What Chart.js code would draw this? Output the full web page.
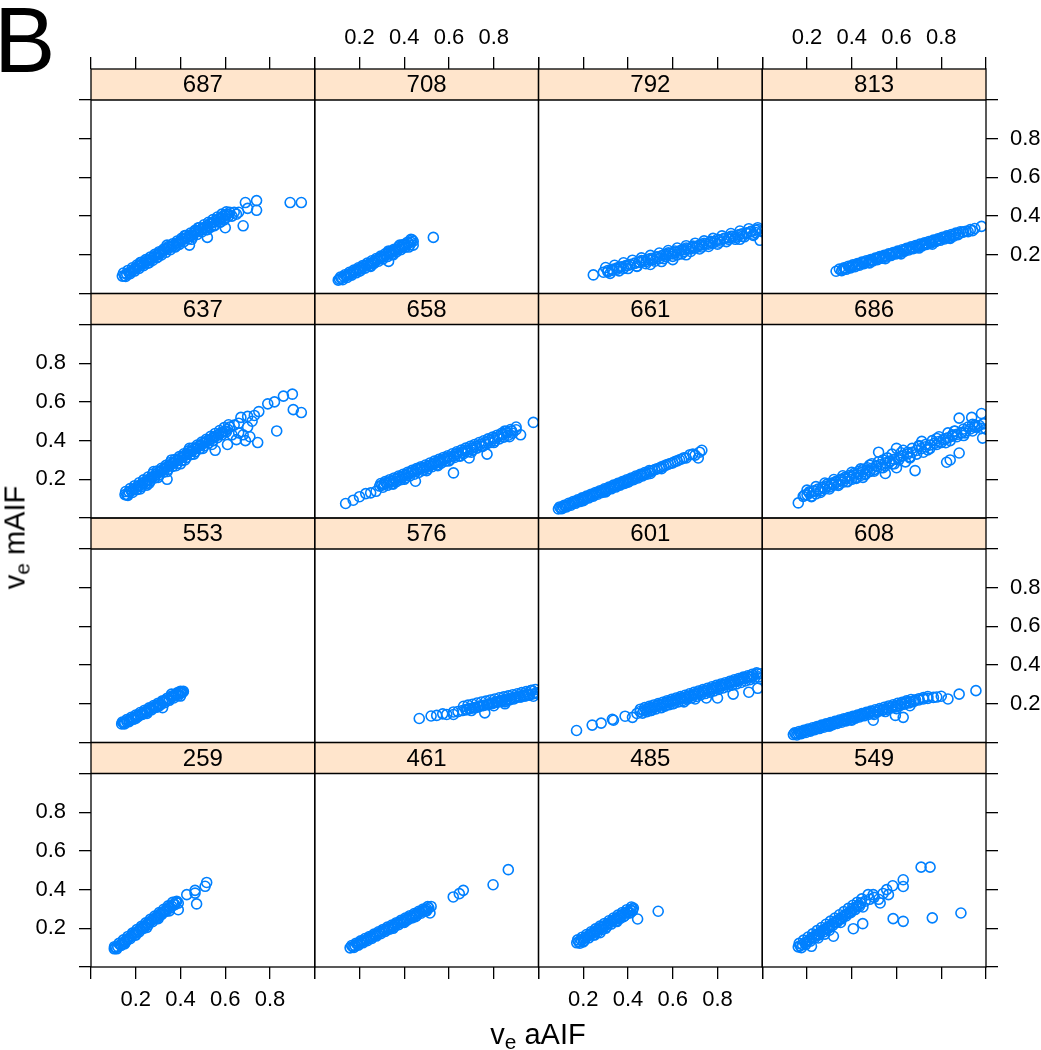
<!DOCTYPE html>
<html><head><meta charset="utf-8">
<script src="https://cdn.jsdelivr.net/npm/chart.js@4.4.1/dist/chart.umd.min.js"></script>
<style>
html,body{margin:0;padding:0;background:#fff;}
#wrap{position:relative;width:1041px;height:1050px;overflow:hidden;font-family:"Liberation Sans",Arial,sans-serif;}
canvas{position:absolute;left:0;top:0;}
.lbl{position:absolute;color:#000;white-space:nowrap;line-height:1;}
.lbl sub{font-size:0.72em;vertical-align:-0.25em;line-height:0;}
</style></head><body>
<div id="wrap">
<canvas id="c" width="1041" height="1050"></canvas>
<div class="lbl" style="left:-6px;top:-6px;font-size:92px;">B</div>
<div class="lbl" style="left:338px;width:400px;text-align:center;top:1020px;font-size:29px;">v<sub>e</sub> aAIF</div>
<div class="lbl" style="left:-135px;width:300px;height:29px;text-align:center;top:523px;font-size:29px;transform:rotate(-90deg);">v<sub>e</sub> mAIF</div>
</div>
<script>
// ---------- data ----------
const panelRows = [
  ['687','708','792','813'],
  ['637','658','661','686'],
  ['553','576','601','608'],
  ['259','461','485','549']
];
const tickValues = [0, 0.2, 0.4, 0.6, 0.8, 1.0];
const tickLabels = ['', '0.2', '0.4', '0.6', '0.8', ''];

const s687 = [[0.14,0.09],[0.15,0.092],[0.16,0.10],[0.17,0.108],[0.18,0.112],[0.19,0.125],[0.20,0.128],[0.21,0.14],[0.22,0.142],[0.23,0.155],[0.24,0.156],[0.25,0.17],[0.26,0.172],[0.27,0.18],[0.28,0.19],[0.29,0.195],[0.30,0.205],[0.31,0.21],[0.32,0.22],[0.33,0.225],[0.34,0.232],[0.35,0.24],[0.36,0.24],[0.37,0.25],[0.38,0.26],[0.39,0.262],[0.40,0.27],[0.41,0.28],[0.42,0.283],[0.43,0.29],[0.44,0.30],[0.45,0.30],[0.46,0.312],[0.47,0.32],[0.48,0.322],[0.49,0.33],[0.50,0.34],[0.51,0.342],[0.52,0.35],[0.53,0.36],[0.54,0.365],[0.55,0.37],[0.56,0.38],[0.57,0.385],[0.58,0.39],[0.59,0.40],[0.60,0.405],[0.61,0.41],[0.62,0.42],[0.22,0.16],[0.26,0.16],[0.30,0.19],[0.34,0.25],[0.38,0.245],[0.42,0.30],[0.45,0.28],[0.48,0.34],[0.52,0.33],[0.55,0.35],[0.58,0.37],[0.60,0.39],[0.44,0.25],[0.52,0.29],[0.63,0.40],[0.64,0.42],[0.66,0.42],[0.68,0.35],[0.69,0.47],[0.70,0.44],[0.74,0.48],[0.74,0.43],[0.89,0.47],[0.94,0.47],[0.60,0.34],[0.65,0.41],
  [0.145,0.106],[0.155,0.088],[0.165,0.119],[0.175,0.102],[0.185,0.133],[0.195,0.116],[0.205,0.147],[0.215,0.130],[0.225,0.161],[0.235,0.144],[0.245,0.175],[0.255,0.157],[0.265,0.188],[0.275,0.171],[0.285,0.202],[0.295,0.185],[0.305,0.216],[0.315,0.199],[0.325,0.230],[0.335,0.213],[0.345,0.243],[0.355,0.226],[0.365,0.257],[0.375,0.240],[0.385,0.271],[0.395,0.254],[0.405,0.285],[0.415,0.268],[0.425,0.299],[0.435,0.282],[0.445,0.312],[0.455,0.295],[0.465,0.326],[0.475,0.305],[0.485,0.340],[0.495,0.318],[0.505,0.355],[0.515,0.330],[0.525,0.368],[0.535,0.343],[0.545,0.382],[0.555,0.355],[0.565,0.395],[0.575,0.368],[0.585,0.41],[0.595,0.38],[0.605,0.422],[0.615,0.40]];
const s708 = [[0.105,0.069],[0.11,0.075],[0.12,0.078],[0.13,0.088],[0.14,0.09],[0.15,0.098],[0.16,0.10],[0.17,0.112],[0.18,0.115],[0.19,0.122],[0.20,0.128],[0.21,0.13],[0.22,0.14],[0.23,0.145],[0.24,0.15],[0.25,0.158],[0.26,0.16],[0.27,0.17],[0.28,0.175],[0.29,0.18],[0.30,0.19],[0.31,0.19],[0.32,0.20],[0.33,0.21],[0.34,0.21],[0.35,0.22],[0.36,0.225],[0.37,0.23],[0.38,0.235],[0.39,0.24],[0.40,0.25],[0.41,0.25],[0.42,0.26],[0.43,0.265],[0.44,0.27],[0.43,0.28],[0.44,0.25],[0.42,0.24],[0.33,0.166],[0.25,0.14],[0.35,0.20],[0.20,0.115],[0.38,0.25],[0.33,0.22],[0.53,0.29],
  [0.115,0.085],[0.125,0.071],[0.135,0.097],[0.145,0.083],[0.155,0.109],[0.165,0.095],[0.175,0.121],[0.185,0.107],[0.195,0.133],[0.205,0.119],[0.215,0.145],[0.225,0.131],[0.235,0.157],[0.245,0.143],[0.255,0.169],[0.265,0.155],[0.275,0.181],[0.285,0.167],[0.295,0.193],[0.305,0.179],[0.315,0.205],[0.325,0.191],[0.335,0.217],[0.345,0.203],[0.355,0.229],[0.365,0.215],[0.375,0.241],[0.385,0.227],[0.395,0.253],[0.405,0.239],[0.415,0.265],[0.425,0.251],[0.435,0.277]];
const s792 = [[0.245,0.096],[0.29,0.11],[0.31,0.112],[0.33,0.12],[0.35,0.125],[0.36,0.135],[0.38,0.13],[0.40,0.145],[0.41,0.15],[0.43,0.155],[0.45,0.16],[0.46,0.17],[0.48,0.165],[0.50,0.18],[0.51,0.175],[0.53,0.19],[0.54,0.18],[0.56,0.20],[0.57,0.19],[0.58,0.21],[0.60,0.205],[0.61,0.22],[0.62,0.20],[0.64,0.225],[0.65,0.215],[0.66,0.235],[0.68,0.23],[0.69,0.245],[0.70,0.235],[0.72,0.25],[0.73,0.24],[0.74,0.26],[0.76,0.255],[0.77,0.27],[0.78,0.26],[0.80,0.28],[0.81,0.265],[0.83,0.285],[0.85,0.28],[0.86,0.295],[0.88,0.29],[0.90,0.305],[0.91,0.295],[0.93,0.31],[0.95,0.32],[0.96,0.30],[0.98,0.33],[0.99,0.275],[0.97,0.315],[0.50,0.15],[0.55,0.165],[0.60,0.175],[0.44,0.14],[0.66,0.20],[0.90,0.28],[1.00,0.32],
  [0.30,0.134],[0.32,0.104],[0.34,0.146],[0.36,0.117],[0.38,0.159],[0.40,0.129],[0.42,0.172],[0.44,0.142],[0.46,0.184],[0.48,0.154],[0.50,0.197],[0.52,0.167],[0.54,0.209],[0.56,0.18],[0.58,0.222],[0.60,0.192],[0.62,0.235],[0.64,0.205],[0.66,0.247],[0.68,0.217],[0.70,0.26],[0.72,0.23],[0.74,0.272],[0.76,0.243],[0.78,0.285],[0.80,0.255],[0.82,0.298],[0.84,0.268],[0.86,0.31],[0.88,0.28],[0.90,0.323],[0.92,0.293],[0.94,0.335],[0.96,0.306],[0.98,0.34],
  [0.31,0.119],[0.33,0.125],[0.35,0.132],[0.37,0.138],[0.39,0.144],[0.41,0.150],[0.43,0.157],[0.45,0.163],[0.47,0.169],[0.49,0.176],[0.51,0.182],[0.53,0.188],[0.55,0.195],[0.57,0.201],[0.59,0.207],[0.61,0.213],[0.63,0.220],[0.65,0.226],[0.67,0.232],[0.69,0.239],[0.71,0.245],[0.73,0.251],[0.75,0.258],[0.77,0.264],[0.79,0.270],[0.81,0.276],[0.83,0.283],[0.85,0.289],[0.87,0.295],[0.89,0.302],[0.91,0.308],[0.93,0.314],[0.95,0.321],[0.97,0.327]];
const s813 = [[0.33,0.115],[0.36,0.125],[0.37,0.13],[0.39,0.135],[0.40,0.14],[0.42,0.148],[0.43,0.15],[0.45,0.16],[0.46,0.162],[0.48,0.17],[0.49,0.172],[0.51,0.18],[0.52,0.185],[0.54,0.19],[0.55,0.195],[0.57,0.20],[0.58,0.205],[0.60,0.21],[0.61,0.215],[0.63,0.22],[0.64,0.228],[0.66,0.232],[0.67,0.235],[0.69,0.245],[0.70,0.245],[0.72,0.255],[0.73,0.258],[0.75,0.265],[0.76,0.268],[0.78,0.275],[0.79,0.28],[0.81,0.287],[0.82,0.29],[0.84,0.297],[0.86,0.305],[0.88,0.31],[0.90,0.318],[0.92,0.32],[0.93,0.33],[0.94,0.325],[0.98,0.347],[0.55,0.18],[0.62,0.205],[0.70,0.235],[0.48,0.158],[0.76,0.255],[0.84,0.285],
  [0.345,0.126],[0.355,0.118],[0.365,0.133],[0.375,0.125],[0.385,0.141],[0.395,0.132],[0.405,0.148],[0.415,0.139],[0.425,0.155],[0.435,0.146],[0.445,0.162],[0.455,0.154],[0.465,0.169],[0.475,0.161],[0.485,0.176],[0.495,0.168],[0.505,0.183],[0.515,0.175],[0.525,0.191],[0.535,0.182],[0.545,0.198],[0.555,0.189],[0.565,0.205],[0.575,0.196],[0.585,0.212],[0.595,0.204],[0.605,0.219],[0.615,0.211],[0.625,0.226],[0.635,0.218],[0.645,0.233],[0.655,0.225],[0.665,0.241],[0.675,0.232],[0.685,0.248],[0.695,0.239],[0.705,0.255],[0.715,0.246],[0.725,0.262],[0.735,0.254],[0.745,0.269],[0.755,0.261],[0.765,0.276],[0.775,0.268],[0.785,0.283],[0.795,0.275],[0.805,0.291],[0.815,0.282],[0.825,0.298],[0.835,0.289],[0.845,0.305],[0.855,0.296],[0.865,0.312],[0.875,0.304],[0.885,0.319],[0.895,0.317],[0.91,0.322],[0.95,0.336]];
const s637 = [[0.152,0.121],[0.16,0.12],[0.17,0.135],[0.18,0.14],[0.19,0.15],[0.20,0.155],[0.21,0.165],[0.22,0.17],[0.23,0.18],[0.24,0.185],[0.25,0.195],[0.26,0.20],[0.27,0.21],[0.28,0.215],[0.29,0.225],[0.30,0.235],[0.31,0.24],[0.32,0.25],[0.33,0.255],[0.34,0.265],[0.35,0.27],[0.36,0.28],[0.37,0.285],[0.38,0.295],[0.39,0.30],[0.40,0.31],[0.41,0.315],[0.42,0.325],[0.43,0.33],[0.44,0.34],[0.45,0.345],[0.46,0.355],[0.47,0.36],[0.48,0.37],[0.49,0.375],[0.50,0.385],[0.51,0.39],[0.52,0.40],[0.53,0.405],[0.54,0.41],[0.55,0.42],[0.56,0.425],[0.57,0.43],[0.58,0.44],[0.59,0.445],[0.60,0.45],[0.61,0.46],[0.62,0.47],[0.22,0.15],[0.26,0.18],[0.30,0.21],[0.34,0.24],[0.38,0.27],[0.42,0.30],[0.46,0.33],[0.50,0.36],[0.54,0.38],[0.28,0.24],[0.36,0.30],[0.44,0.36],[0.34,0.20],[0.25,0.17],[0.40,0.28],[0.555,0.35],[0.61,0.38],[0.65,0.405],[0.69,0.40],[0.70,0.47],[0.67,0.52],[0.70,0.525],[0.75,0.55],[0.745,0.39],[0.79,0.59],[0.82,0.60],[0.86,0.63],[0.90,0.64],[0.904,0.56],[0.94,0.545],[0.83,0.45],[0.64,0.48],[0.66,0.49],[0.68,0.43],[0.72,0.50],[0.73,0.53],[0.63,0.43],[0.66,0.44],[0.71,0.42],
  [0.155,0.137],[0.165,0.117],[0.175,0.152],[0.185,0.132],[0.195,0.167],[0.205,0.147],[0.215,0.182],[0.225,0.162],[0.235,0.197],[0.245,0.177],[0.255,0.212],[0.265,0.192],[0.275,0.227],[0.285,0.207],[0.295,0.242],[0.305,0.222],[0.315,0.257],[0.325,0.237],[0.335,0.272],[0.345,0.252],[0.355,0.287],[0.365,0.267],[0.375,0.302],[0.385,0.282],[0.395,0.317],[0.405,0.297],[0.415,0.332],[0.425,0.312],[0.435,0.347],[0.445,0.327],[0.455,0.362],[0.465,0.342],[0.475,0.377],[0.485,0.357],[0.495,0.392],[0.505,0.372],[0.515,0.407],[0.525,0.387],[0.535,0.422],[0.545,0.40],[0.555,0.437],[0.565,0.415],[0.575,0.452],[0.585,0.43],[0.595,0.467],[0.605,0.445],[0.615,0.482]];
const s658 = [[0.138,0.075],[0.172,0.092],[0.20,0.11],[0.228,0.126],[0.25,0.13],[0.274,0.138],[0.29,0.165],[0.30,0.17],[0.31,0.175],[0.32,0.18],[0.33,0.185],[0.34,0.19],[0.35,0.19],[0.36,0.20],[0.37,0.205],[0.38,0.21],[0.39,0.21],[0.40,0.22],[0.41,0.22],[0.42,0.23],[0.43,0.235],[0.44,0.24],[0.45,0.24],[0.46,0.25],[0.47,0.255],[0.48,0.26],[0.49,0.26],[0.50,0.265],[0.51,0.27],[0.52,0.275],[0.53,0.28],[0.54,0.285],[0.55,0.29],[0.56,0.295],[0.57,0.30],[0.58,0.305],[0.59,0.31],[0.60,0.315],[0.62,0.32],[0.63,0.33],[0.64,0.335],[0.66,0.34],[0.67,0.35],[0.68,0.35],[0.70,0.36],[0.72,0.37],[0.74,0.38],[0.76,0.39],[0.78,0.40],[0.80,0.41],[0.82,0.42],[0.84,0.43],[0.86,0.44],[0.88,0.45],[0.90,0.456],[0.35,0.175],[0.40,0.20],[0.45,0.19],[0.50,0.245],[0.55,0.27],[0.60,0.295],[0.65,0.32],[0.70,0.34],[0.75,0.37],[0.80,0.39],[0.62,0.233],[0.69,0.31],[0.77,0.33],[0.90,0.47],[0.92,0.43],[0.977,0.494],[0.85,0.45],[0.87,0.42],
  [0.295,0.178],[0.305,0.159],[0.315,0.188],[0.325,0.169],[0.335,0.198],[0.345,0.178],[0.355,0.207],[0.365,0.188],[0.375,0.217],[0.385,0.198],[0.395,0.226],[0.405,0.207],[0.415,0.236],[0.425,0.217],[0.435,0.246],[0.445,0.226],[0.455,0.255],[0.465,0.236],[0.475,0.265],[0.485,0.246],[0.495,0.274],[0.505,0.255],[0.515,0.284],[0.525,0.265],[0.535,0.294],[0.545,0.274],[0.555,0.303],[0.565,0.284],[0.575,0.313],[0.585,0.294],[0.595,0.322],[0.605,0.303],[0.615,0.332],[0.625,0.313],[0.635,0.342],[0.645,0.322],[0.655,0.351],[0.665,0.332],[0.675,0.361],[0.685,0.342],[0.695,0.37],[0.705,0.351],[0.715,0.38],[0.725,0.361],[0.735,0.39],[0.745,0.37],[0.755,0.399],[0.765,0.38],[0.775,0.409],[0.785,0.39],[0.795,0.418],[0.805,0.399],[0.815,0.428],[0.825,0.409],[0.835,0.438],[0.845,0.418],[0.855,0.447],[0.865,0.428],[0.875,0.457],[0.885,0.438]];
const s661 = [[0.089,0.047],[0.10,0.05],[0.11,0.058],[0.12,0.06],[0.13,0.066],[0.14,0.07],[0.15,0.077],[0.16,0.08],[0.17,0.086],[0.18,0.09],[0.19,0.095],[0.20,0.10],[0.21,0.104],[0.22,0.11],[0.23,0.114],[0.24,0.118],[0.25,0.124],[0.26,0.128],[0.27,0.132],[0.28,0.138],[0.29,0.142],[0.30,0.147],[0.31,0.15],[0.32,0.156],[0.33,0.16],[0.34,0.165],[0.35,0.17],[0.36,0.174],[0.37,0.18],[0.38,0.184],[0.39,0.188],[0.40,0.194],[0.41,0.197],[0.42,0.203],[0.43,0.206],[0.44,0.212],[0.45,0.218],[0.46,0.222],[0.47,0.226],[0.48,0.23],[0.50,0.24],[0.52,0.25],[0.54,0.258],[0.56,0.268],[0.58,0.278],[0.60,0.285],[0.62,0.295],[0.64,0.305],[0.66,0.31],[0.677,0.327],[0.69,0.33],[0.70,0.325],[0.714,0.31],[0.72,0.34],[0.73,0.35],[0.30,0.135],[0.40,0.185],[0.50,0.23],[0.20,0.09],[0.55,0.255],
  [0.095,0.057],[0.105,0.048],[0.115,0.066],[0.125,0.057],[0.135,0.076],[0.145,0.066],[0.155,0.085],[0.165,0.076],[0.175,0.094],[0.185,0.085],[0.195,0.104],[0.205,0.095],[0.215,0.113],[0.225,0.104],[0.235,0.123],[0.245,0.113],[0.255,0.132],[0.265,0.123],[0.275,0.141],[0.285,0.132],[0.295,0.151],[0.305,0.142],[0.315,0.16],[0.325,0.151],[0.335,0.17],[0.345,0.16],[0.355,0.179],[0.365,0.17],[0.375,0.188],[0.385,0.179],[0.395,0.198],[0.405,0.189],[0.415,0.207],[0.425,0.198],[0.435,0.217],[0.445,0.207],[0.455,0.226],[0.465,0.217],[0.475,0.235],[0.485,0.226],[0.495,0.245],[0.51,0.245],[0.53,0.254],[0.55,0.264],[0.57,0.273],[0.59,0.282],[0.61,0.292],[0.63,0.301],[0.65,0.311]];
const s686 = [[0.161,0.078],[0.183,0.112],[0.20,0.12],[0.21,0.135],[0.22,0.11],[0.23,0.14],[0.24,0.125],[0.25,0.15],[0.26,0.14],[0.27,0.16],[0.28,0.15],[0.29,0.175],[0.30,0.16],[0.31,0.18],[0.32,0.17],[0.33,0.19],[0.34,0.175],[0.35,0.20],[0.36,0.185],[0.37,0.21],[0.38,0.19],[0.39,0.22],[0.40,0.20],[0.41,0.23],[0.42,0.21],[0.43,0.24],[0.44,0.22],[0.45,0.25],[0.46,0.23],[0.47,0.26],[0.48,0.24],[0.49,0.28],[0.50,0.25],[0.51,0.27],[0.52,0.34],[0.53,0.26],[0.54,0.30],[0.55,0.27],[0.56,0.31],[0.57,0.29],[0.58,0.33],[0.59,0.28],[0.60,0.36],[0.61,0.30],[0.62,0.32],[0.63,0.35],[0.64,0.29],[0.65,0.34],[0.66,0.31],[0.67,0.36],[0.683,0.245],[0.69,0.33],[0.70,0.37],[0.713,0.396],[0.72,0.34],[0.73,0.38],[0.75,0.36],[0.76,0.40],[0.78,0.38],[0.79,0.42],[0.80,0.39],[0.82,0.41],[0.824,0.288],[0.83,0.44],[0.84,0.40],[0.85,0.43],[0.86,0.45],[0.87,0.42],[0.88,0.336],[0.88,0.516],[0.89,0.44],[0.90,0.46],[0.906,0.44],[0.92,0.47],[0.936,0.52],[0.94,0.45],[0.95,0.48],[0.96,0.47],[0.98,0.54],[0.985,0.413],[0.99,0.49],[1.00,0.46],[0.84,0.30],[0.60,0.26],[0.55,0.23],[0.45,0.21],
  [0.19,0.119],[0.21,0.129],[0.23,0.138],[0.25,0.147],[0.27,0.156],[0.29,0.165],[0.31,0.175],[0.33,0.184],[0.35,0.193],[0.37,0.202],[0.39,0.211],[0.41,0.221],[0.43,0.23],[0.45,0.239],[0.47,0.248],[0.49,0.257],[0.51,0.267],[0.53,0.276],[0.55,0.285],[0.57,0.294],[0.59,0.303],[0.61,0.313],[0.63,0.322],[0.65,0.331],[0.67,0.34],[0.69,0.349],[0.71,0.359],[0.73,0.368],[0.75,0.377],[0.77,0.386],[0.79,0.395],[0.81,0.405],[0.83,0.414],[0.85,0.423],[0.87,0.432],[0.89,0.441],[0.91,0.451],[0.93,0.46],[0.95,0.469],[0.97,0.478],[0.99,0.487],
  [0.20,0.144],[0.22,0.113],[0.24,0.162],[0.26,0.132],[0.28,0.181],[0.30,0.15],[0.32,0.199],[0.34,0.168],[0.36,0.218],[0.38,0.187],[0.40,0.236],[0.42,0.205],[0.44,0.254],[0.46,0.224],[0.48,0.273],[0.50,0.242],[0.52,0.291],[0.54,0.26],[0.56,0.31],[0.58,0.279],[0.62,0.337],[0.66,0.316],[0.70,0.374],[0.74,0.352],[0.78,0.411],[0.82,0.389],[0.86,0.448],[0.90,0.426],[0.94,0.484],[0.98,0.463]];
const s553 = [[0.137,0.096],[0.145,0.10],[0.15,0.105],[0.16,0.108],[0.17,0.116],[0.18,0.12],[0.19,0.128],[0.20,0.133],[0.21,0.14],[0.22,0.145],[0.23,0.152],[0.24,0.155],[0.25,0.165],[0.26,0.17],[0.27,0.177],[0.28,0.18],[0.29,0.19],[0.30,0.195],[0.31,0.20],[0.32,0.18],[0.32,0.21],[0.33,0.215],[0.34,0.22],[0.35,0.225],[0.36,0.235],[0.37,0.24],[0.38,0.245],[0.39,0.25],[0.40,0.255],[0.41,0.26],[0.413,0.264],[0.39,0.26],[0.40,0.24],[0.36,0.25],[0.25,0.15],[0.20,0.125],[0.30,0.185],
  [0.14,0.106],[0.15,0.096],[0.16,0.118],[0.17,0.108],[0.18,0.13],[0.19,0.12],[0.20,0.142],[0.21,0.133],[0.22,0.155],[0.23,0.145],[0.24,0.167],[0.25,0.157],[0.26,0.179],[0.27,0.169],[0.28,0.191],[0.29,0.181],[0.30,0.203],[0.31,0.194],[0.32,0.216],[0.33,0.206],[0.34,0.228],[0.35,0.218],[0.36,0.24],[0.37,0.23],[0.38,0.252],[0.39,0.242],[0.40,0.264],[0.405,0.259]];
const s576 = [[0.467,0.124],[0.52,0.137],[0.545,0.14],[0.572,0.148],[0.59,0.145],[0.62,0.158],[0.64,0.16],[0.66,0.165],[0.68,0.17],[0.69,0.175],[0.708,0.178],[0.72,0.18],[0.73,0.185],[0.74,0.19],[0.75,0.19],[0.76,0.153],[0.77,0.195],[0.78,0.20],[0.79,0.20],[0.80,0.205],[0.81,0.21],[0.82,0.21],[0.83,0.215],[0.84,0.22],[0.85,0.21],[0.86,0.225],[0.87,0.22],[0.88,0.23],[0.89,0.225],[0.90,0.235],[0.91,0.24],[0.92,0.235],[0.93,0.245],[0.94,0.24],[0.95,0.25],[0.96,0.245],[0.97,0.27],[0.977,0.239],[0.99,0.255],[1.00,0.25],[0.80,0.19],[0.85,0.20],[0.70,0.165],[0.62,0.145],
  [0.665,0.187],[0.675,0.17],[0.685,0.193],[0.695,0.176],[0.705,0.198],[0.715,0.181],[0.725,0.204],[0.735,0.186],[0.745,0.209],[0.755,0.192],[0.765,0.214],[0.775,0.197],[0.785,0.22],[0.795,0.203],[0.805,0.225],[0.815,0.208],[0.825,0.231],[0.835,0.213],[0.845,0.236],[0.855,0.219],[0.865,0.241],[0.875,0.224],[0.885,0.247],[0.895,0.23],[0.905,0.252],[0.915,0.235],[0.925,0.258],[0.935,0.24],[0.945,0.263],[0.955,0.246],[0.965,0.268],[0.975,0.251],[0.985,0.274],[0.995,0.257]];
const s601 = [[0.17,0.062],[0.24,0.09],[0.28,0.10],[0.33,0.12],[0.335,0.115],[0.387,0.136],[0.42,0.13],[0.44,0.15],[0.454,0.16],[0.47,0.165],[0.48,0.17],[0.49,0.175],[0.50,0.18],[0.51,0.18],[0.52,0.185],[0.53,0.19],[0.54,0.195],[0.55,0.195],[0.56,0.20],[0.57,0.205],[0.58,0.21],[0.59,0.21],[0.60,0.215],[0.61,0.22],[0.62,0.22],[0.63,0.225],[0.64,0.23],[0.65,0.23],[0.66,0.235],[0.67,0.24],[0.68,0.24],[0.69,0.245],[0.70,0.25],[0.71,0.255],[0.72,0.255],[0.73,0.26],[0.74,0.265],[0.75,0.27],[0.76,0.27],[0.77,0.275],[0.78,0.28],[0.79,0.285],[0.80,0.285],[0.81,0.29],[0.82,0.295],[0.83,0.30],[0.84,0.30],[0.85,0.305],[0.86,0.31],[0.87,0.315],[0.88,0.315],[0.89,0.32],[0.90,0.325],[0.91,0.33],[0.92,0.33],[0.93,0.335],[0.94,0.34],[0.95,0.34],[0.96,0.345],[0.98,0.354],[0.99,0.33],[0.98,0.28],[0.94,0.26],[0.87,0.25],[0.80,0.23],[0.75,0.23],[0.70,0.225],[0.65,0.21],[0.60,0.20],[0.55,0.18],[0.50,0.165],
  [0.455,0.172],[0.465,0.152],[0.475,0.18],[0.485,0.159],[0.495,0.187],[0.505,0.166],[0.515,0.194],[0.525,0.174],[0.535,0.201],[0.545,0.181],[0.555,0.208],[0.565,0.188],[0.575,0.216],[0.585,0.195],[0.595,0.223],[0.605,0.202],[0.615,0.23],[0.625,0.21],[0.635,0.237],[0.645,0.217],[0.655,0.244],[0.665,0.224],[0.675,0.252],[0.685,0.231],[0.695,0.259],[0.705,0.238],[0.715,0.266],[0.725,0.246],[0.735,0.273],[0.745,0.253],[0.755,0.28],[0.765,0.26],[0.775,0.288],[0.785,0.267],[0.795,0.295],[0.805,0.274],[0.815,0.302],[0.825,0.282],[0.835,0.309],[0.845,0.289],[0.855,0.316],[0.865,0.296],[0.875,0.324],[0.885,0.303],[0.895,0.331],[0.905,0.31],[0.915,0.338],[0.925,0.318],[0.935,0.345],[0.945,0.325],[0.955,0.352],[0.965,0.332],[0.975,0.36],[0.985,0.339],[0.995,0.355]];
const s608 = [[0.139,0.041],[0.15,0.045],[0.16,0.048],[0.17,0.05],[0.18,0.055],[0.19,0.058],[0.20,0.062],[0.21,0.064],[0.22,0.068],[0.23,0.07],[0.24,0.075],[0.25,0.078],[0.26,0.08],[0.27,0.085],[0.28,0.088],[0.29,0.09],[0.30,0.095],[0.31,0.098],[0.32,0.10],[0.33,0.105],[0.34,0.108],[0.35,0.11],[0.36,0.115],[0.37,0.118],[0.38,0.12],[0.39,0.125],[0.40,0.128],[0.41,0.13],[0.42,0.135],[0.43,0.138],[0.44,0.14],[0.45,0.145],[0.46,0.148],[0.47,0.15],[0.48,0.155],[0.496,0.115],[0.50,0.16],[0.52,0.165],[0.54,0.17],[0.56,0.178],[0.58,0.185],[0.595,0.14],[0.60,0.19],[0.62,0.20],[0.63,0.13],[0.64,0.205],[0.66,0.21],[0.68,0.215],[0.70,0.22],[0.72,0.225],[0.74,0.228],[0.765,0.233],[0.78,0.235],[0.80,0.239],[0.83,0.225],[0.88,0.25],[0.955,0.268],[0.40,0.115],[0.50,0.145],[0.60,0.175],[0.30,0.085],[0.55,0.16],[0.66,0.19],
  [0.145,0.05],[0.155,0.039],[0.165,0.057],[0.175,0.046],[0.185,0.063],[0.195,0.052],[0.205,0.07],[0.215,0.059],[0.225,0.076],[0.235,0.066],[0.245,0.083],[0.255,0.072],[0.265,0.09],[0.275,0.079],[0.285,0.096],[0.295,0.085],[0.305,0.103],[0.315,0.092],[0.325,0.109],[0.335,0.099],[0.345,0.116],[0.355,0.105],[0.365,0.123],[0.375,0.112],[0.385,0.129],[0.395,0.118],[0.405,0.136],[0.415,0.125],[0.425,0.142],[0.435,0.132],[0.445,0.149],[0.455,0.138],[0.465,0.156],[0.475,0.145],[0.485,0.162],[0.495,0.151],[0.505,0.169],[0.515,0.158],[0.525,0.175],[0.535,0.165],[0.545,0.182],[0.555,0.171],[0.565,0.189],[0.575,0.178],[0.585,0.195],[0.595,0.184],[0.605,0.202],[0.615,0.191],[0.625,0.208],[0.635,0.198],[0.645,0.215],[0.655,0.204],[0.665,0.222],[0.675,0.211],[0.685,0.221],[0.70,0.226],[0.72,0.232],[0.74,0.238]];
const s259 = [[0.104,0.094],[0.11,0.10],[0.12,0.105],[0.13,0.115],[0.14,0.12],[0.15,0.133],[0.16,0.14],[0.17,0.15],[0.18,0.16],[0.19,0.17],[0.20,0.178],[0.21,0.185],[0.22,0.195],[0.23,0.205],[0.24,0.21],[0.25,0.222],[0.26,0.23],[0.27,0.24],[0.28,0.248],[0.29,0.255],[0.30,0.265],[0.31,0.275],[0.32,0.28],[0.33,0.29],[0.34,0.30],[0.35,0.31],[0.36,0.315],[0.37,0.325],[0.38,0.335],[0.383,0.34],[0.39,0.296],[0.39,0.33],[0.428,0.374],[0.465,0.396],[0.465,0.382],[0.472,0.326],[0.51,0.417],[0.517,0.437],[0.20,0.165],[0.25,0.205],[0.30,0.25],[0.35,0.29],[0.15,0.12],
  [0.105,0.105],[0.115,0.094],[0.125,0.122],[0.135,0.111],[0.145,0.14],[0.155,0.129],[0.165,0.158],[0.175,0.146],[0.185,0.175],[0.195,0.164],[0.205,0.193],[0.215,0.182],[0.225,0.21],[0.235,0.199],[0.245,0.228],[0.255,0.217],[0.265,0.246],[0.275,0.234],[0.285,0.263],[0.295,0.252],[0.305,0.281],[0.315,0.27],[0.325,0.298],[0.335,0.287],[0.345,0.316],[0.355,0.305],[0.365,0.334],[0.375,0.322]];
const s461 = [[0.158,0.099],[0.17,0.105],[0.18,0.11],[0.19,0.118],[0.20,0.124],[0.21,0.13],[0.22,0.135],[0.23,0.14],[0.24,0.148],[0.25,0.153],[0.26,0.16],[0.27,0.165],[0.28,0.17],[0.29,0.177],[0.30,0.183],[0.31,0.19],[0.32,0.195],[0.33,0.20],[0.34,0.205],[0.35,0.212],[0.36,0.218],[0.37,0.225],[0.38,0.23],[0.39,0.235],[0.40,0.242],[0.41,0.248],[0.42,0.253],[0.43,0.26],[0.44,0.265],[0.45,0.27],[0.46,0.277],[0.47,0.283],[0.48,0.288],[0.49,0.295],[0.50,0.30],[0.51,0.305],[0.52,0.313],[0.515,0.279],[0.50,0.29],[0.35,0.20],[0.40,0.23],[0.45,0.26],[0.619,0.362],[0.646,0.379],[0.664,0.396],[0.797,0.425],[0.865,0.503],
  [0.165,0.111],[0.175,0.101],[0.185,0.123],[0.195,0.113],[0.205,0.135],[0.215,0.125],[0.225,0.147],[0.235,0.136],[0.245,0.158],[0.255,0.148],[0.265,0.17],[0.275,0.16],[0.285,0.182],[0.295,0.172],[0.305,0.194],[0.315,0.184],[0.325,0.206],[0.335,0.195],[0.345,0.217],[0.355,0.207],[0.365,0.229],[0.375,0.219],[0.385,0.241],[0.395,0.231],[0.405,0.253],[0.415,0.243],[0.425,0.265],[0.435,0.254],[0.445,0.276],[0.455,0.266],[0.465,0.288],[0.475,0.278],[0.485,0.30],[0.495,0.29],[0.505,0.312]];
const s485 = [[0.171,0.125],[0.18,0.13],[0.19,0.14],[0.20,0.145],[0.21,0.15],[0.22,0.16],[0.23,0.165],[0.24,0.175],[0.25,0.18],[0.26,0.19],[0.27,0.195],[0.28,0.205],[0.29,0.21],[0.30,0.215],[0.31,0.225],[0.32,0.23],[0.33,0.24],[0.34,0.245],[0.35,0.25],[0.36,0.26],[0.37,0.265],[0.38,0.275],[0.39,0.28],[0.40,0.285],[0.41,0.295],[0.42,0.30],[0.424,0.305],[0.41,0.28],[0.42,0.29],[0.443,0.248],[0.535,0.288],[0.25,0.165],[0.30,0.20],[0.35,0.235],[0.20,0.13],[0.38,0.26],[0.275,0.177],
  [0.175,0.14],[0.185,0.123],[0.195,0.154],[0.205,0.137],[0.215,0.168],[0.225,0.151],[0.235,0.182],[0.245,0.166],[0.255,0.197],[0.265,0.18],[0.275,0.211],[0.285,0.194],[0.295,0.225],[0.305,0.208],[0.315,0.239],[0.325,0.222],[0.335,0.253],[0.345,0.237],[0.355,0.268],[0.365,0.251],[0.375,0.282],[0.385,0.265],[0.395,0.296],[0.405,0.279],[0.415,0.31]];
const s549 = [[0.161,0.104],[0.17,0.11],[0.18,0.115],[0.19,0.125],[0.20,0.13],[0.21,0.14],[0.22,0.107],[0.22,0.15],[0.23,0.155],[0.24,0.165],[0.25,0.17],[0.26,0.18],[0.27,0.19],[0.28,0.195],[0.29,0.205],[0.30,0.21],[0.31,0.22],[0.318,0.159],[0.32,0.23],[0.33,0.235],[0.34,0.245],[0.35,0.25],[0.36,0.26],[0.37,0.27],[0.38,0.275],[0.39,0.285],[0.40,0.29],[0.407,0.305],[0.407,0.198],[0.42,0.31],[0.43,0.32],[0.44,0.33],[0.449,0.224],[0.46,0.34],[0.473,0.374],[0.48,0.35],[0.496,0.374],[0.50,0.36],[0.527,0.331],[0.54,0.38],[0.556,0.40],[0.564,0.374],[0.583,0.42],[0.585,0.25],[0.63,0.451],[0.63,0.416],[0.63,0.236],[0.71,0.516],[0.75,0.516],[0.76,0.254],[0.888,0.279],[0.25,0.15],[0.30,0.19],[0.35,0.23],[0.28,0.17],[0.45,0.31],[0.52,0.35],
  [0.165,0.122],[0.175,0.10],[0.185,0.139],[0.195,0.117],[0.205,0.155],[0.215,0.133],[0.225,0.171],[0.235,0.15],[0.245,0.188],[0.255,0.166],[0.265,0.204],[0.275,0.182],[0.285,0.221],[0.295,0.199],[0.305,0.237],[0.315,0.215],[0.325,0.253],[0.335,0.232],[0.345,0.27],[0.355,0.248],[0.365,0.286],[0.375,0.264],[0.385,0.303],[0.395,0.281],[0.405,0.319],[0.415,0.297],[0.425,0.335],[0.435,0.314],[0.445,0.352]];

const seriesById = {
  '687': s687, '708': s708, '792': s792, '813': s813,
  '637': s637, '658': s658, '661': s661, '686': s686,
  '553': s553, '576': s576, '601': s601, '608': s608,
  '259': s259, '461': s461, '485': s485, '549': s549
};

// ---------- chart ----------
const FONT = '"Liberation Sans", Arial, sans-serif';
const PANEL_MAX = 224.5 / 193.5; // row height incl. strip, in data units
const tickFont = {family: FONT, size: 22};

function axisCommon(showLabels, pad) {
  return {
    type: 'linear', min: 0, offset: false, grace: 0,
    afterBuildTicks: s => { s.ticks = tickValues.map(v => ({value: v})); },
    grid: {drawOnChartArea: false, drawTicks: true, tickLength: 12, color: '#000', lineWidth: 1.3},
    border: {display: false},
    ticks: {
      display: true, autoSkip: false, maxRotation: 0, minRotation: 0,
      padding: pad, color: '#000', font: tickFont,
      callback: (v, i) => showLabels ? tickLabels[i] : ''
    }
  };
}

const scales = {};
for (let c = 0; c < 4; c++) {
  scales['x' + c] = Object.assign(axisCommon(c === 0 || c === 2, 8), {
    axis: 'x', position: 'bottom', stack: 'xb', weight: c, max: 1,
    afterFit: s => { s.height = 83; }
  });
}
for (let c = 0; c < 4; c++) {
  scales['xt' + c] = Object.assign(axisCommon(c === 1 || c === 3, 6), {
    axis: 'x', position: 'top', stack: 'xt', weight: 10 - c, max: 1,
    afterFit: s => { s.height = 69; }
  });
}
for (let r = 0; r < 4; r++) {
  scales['y' + r] = Object.assign(axisCommon(r === 1 || r === 3, 13), {
    axis: 'y', position: 'left', stack: 'yl', weight: 10 - r, max: PANEL_MAX,
    afterFit: s => { s.width = 91; }
  });
}
for (let r = 0; r < 4; r++) {
  scales['yr' + r] = Object.assign(axisCommon(r === 0 || r === 2, 12), {
    axis: 'y', position: 'right', stack: 'yr', weight: r, max: PANEL_MAX,
    afterFit: s => { s.width = 55; }
  });
}

const datasets = [];
panelRows.forEach((row, r) => row.forEach((id, c) => {
  datasets.push({
    label: id,
    data: seriesById[id].map(p => ({x: p[0], y: p[1]})),
    xAxisID: 'x' + c, yAxisID: 'y' + r,
    showLine: false,
    pointStyle: 'circle', pointRadius: 5, pointHoverRadius: 5,
    pointBorderWidth: 1.6, pointBorderColor: '#0080ff',
    pointBackgroundColor: 'rgba(0,0,0,0)'
  });
}));

const stripPlugin = {
  id: 'strips',
  beforeDatasetsDraw(chart) {
    const ctx = chart.ctx;
    ctx.save();
    panelRows.forEach((row, r) => row.forEach((id, c) => {
      const xs = chart.scales['x' + c], ys = chart.scales['y' + r];
      const l = xs.getPixelForValue(0), rt = xs.getPixelForValue(1);
      const top = ys.getPixelForValue(PANEL_MAX), sb = ys.getPixelForValue(1);
      ctx.fillStyle = '#ffe5cc';
      ctx.fillRect(l, top, rt - l, sb - top);
      ctx.fillStyle = '#000';
      ctx.font = '24px ' + FONT;
      ctx.textAlign = 'center';
      ctx.textBaseline = 'middle';
      ctx.fillText(id, (l + rt) / 2, (top + sb) / 2 + 1);
    }));
    ctx.restore();
  },
  afterDatasetsDraw(chart) {
    const ctx = chart.ctx;
    ctx.save();
    ctx.strokeStyle = '#000';
    ctx.lineWidth = 1.3;
    panelRows.forEach((row, r) => row.forEach((id, c) => {
      const xs = chart.scales['x' + c], ys = chart.scales['y' + r];
      const l = xs.getPixelForValue(0), rt = xs.getPixelForValue(1);
      const top = ys.getPixelForValue(PANEL_MAX), sb = ys.getPixelForValue(1), bot = ys.getPixelForValue(0);
      ctx.strokeRect(l, top, rt - l, bot - top);
      ctx.beginPath(); ctx.moveTo(l, sb); ctx.lineTo(rt, sb); ctx.stroke();
    }));
    ctx.restore();
  }
};

new Chart(document.getElementById('c'), {
  type: 'scatter',
  data: {datasets},
  options: {
    responsive: false, devicePixelRatio: 1, animation: false, events: [],
    layout: {padding: 0},
    plugins: {legend: {display: false}, tooltip: {enabled: false}, title: {display: false}},
    scales
  },
  plugins: [stripPlugin]
});
</script>
</body></html>
